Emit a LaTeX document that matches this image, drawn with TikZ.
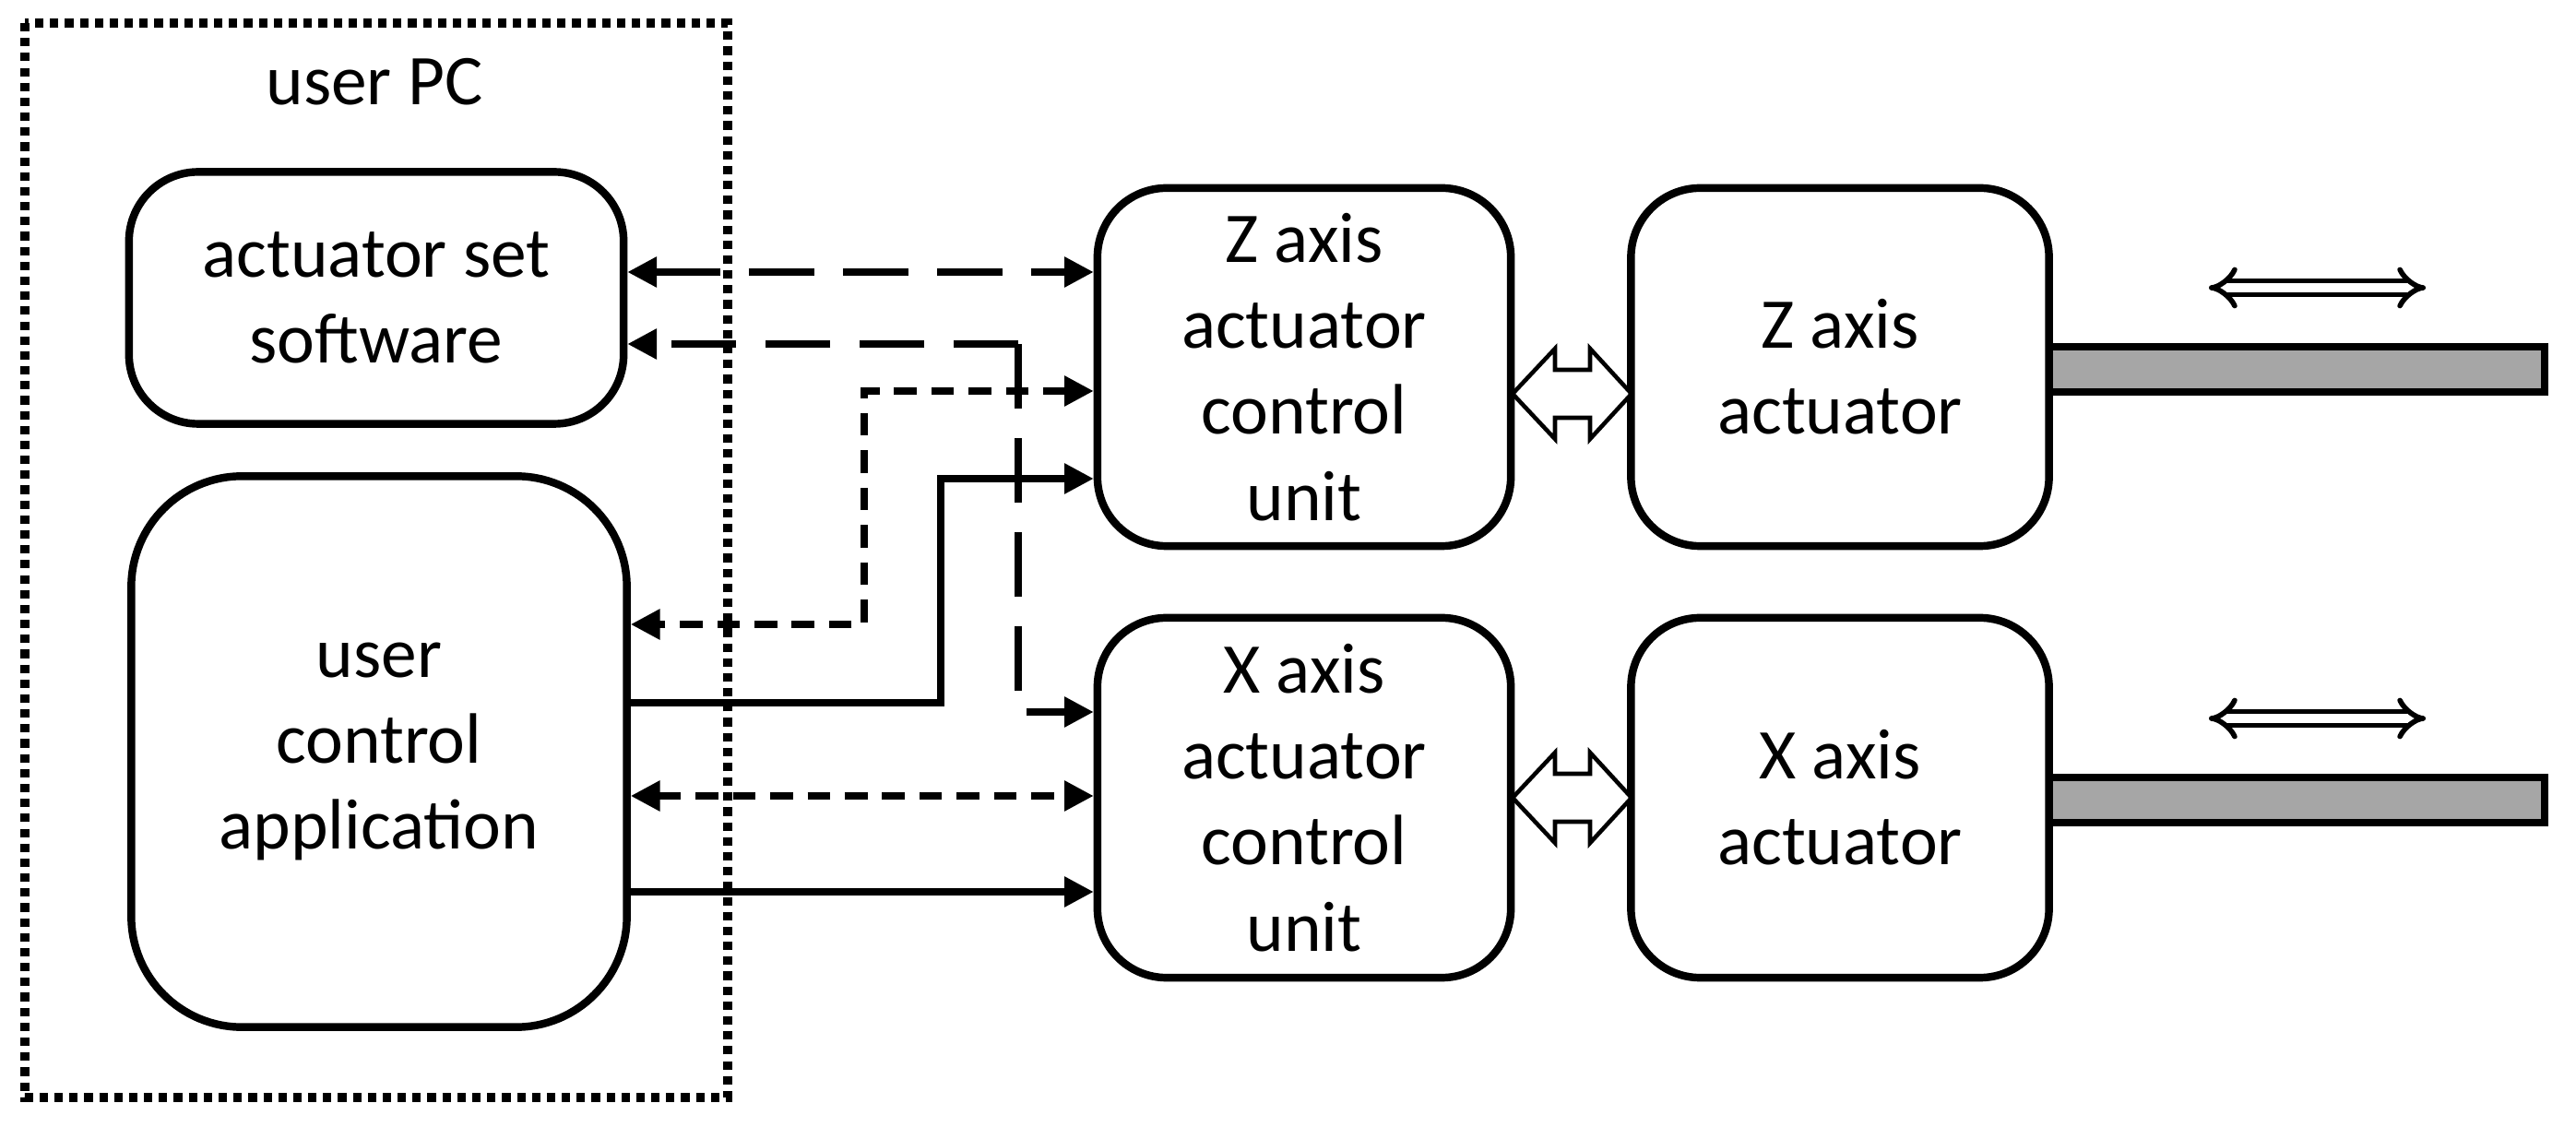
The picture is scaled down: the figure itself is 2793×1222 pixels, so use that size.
\documentclass[tikz,border=0pt]{standalone}
\usepackage{fontspec}
\setmainfont{Carlito}
\usetikzlibrary{arrows.meta}
\begin{document}
\begin{tikzpicture}[x=0.01cm,y=-0.01cm,
 txt/.style={font=\fontsize{22}{26.5}\selectfont,align=center},
 box/.style={txt,draw,line width=2.4pt,rounded corners=0.75cm,inner sep=0pt},
 con/.style={line width=2pt,-{Triangle[length=9pt,width=9pt]}},
 both/.style={line width=2pt,{Triangle[length=9pt,width=9pt]}-{Triangle[length=9pt,width=9pt]}},
 ldash/.style={dash pattern=on 20pt off 9pt},
 sdash/.style={dash pattern=on 7pt off 4.5pt},
 bar/.style={draw,fill=gray!70,line width=2.4pt},
 mv/.style={double,double distance=2.6pt,line width=1.6pt,{Implies}-{Implies}},
 hollow/.style={draw,fill=white,line width=1.3pt}]
\useasboundingbox (0,0) rectangle (2793,1222);
\draw[line width=2.6pt,dotted] (27,25) rectangle (789,1190);
\node[txt] (pc) at (406,89) {user PC};
\node[box,minimum width=15.2cm/1,minimum width=5.36cm,minimum height=2.73cm] (ass) at (408,323) {actuator set\\software};
\node[box,rounded corners=1.2cm,minimum width=5.37cm,minimum height=5.97cm] (uca) at (411,815) {user\\control\\application};
\node[box,minimum width=4.48cm,minimum height=3.88cm] (zc) at (1414,398) {Z axis\\actuator\\control\\unit};
\node[box,minimum width=4.48cm,minimum height=3.9cm] (xc) at (1414,865) {X axis\\actuator\\control\\unit};
\node[box,minimum width=4.53cm,minimum height=3.88cm] (za) at (1995,398) {Z axis\\actuator};
\node[box,minimum width=4.53cm,minimum height=3.9cm] (xa) at (1995,865) {X axis\\actuator};
\coordinate (k1) at (1104,373);
\draw[both,ldash] (ass.east|-0,295) -- (zc.west|-0,295);
\draw[con,ldash] (k1) -- (1104,772) -- (xc.west|-0,772);
\draw[con,ldash] (k1) -- (ass.east|-k1);
\draw[both,sdash] (zc.west|-0,424) -- (937,424) -- (937,677) -- (uca.east|-0,677);
\draw[con] (uca.east|-0,762) -- (1020,762) -- (1020,519) -- (zc.west|-0,519);
\draw[both,sdash] (uca.east|-0,863) -- (xc.west|-0,863);
\draw[con] (uca.east|-0,967) -- (xc.west|-0,967);
\foreach \c in {427,865}{
 \draw[hollow] (1640,\c) -- (1686,\c-49) -- (1686,\c-26) -- (1724,\c-26) -- (1724,\c-49) -- (1769,\c) -- (1724,\c+49) -- (1724,\c+26) -- (1686,\c+26) -- (1686,\c+49) -- cycle;}
\draw[bar] (2222,376) rectangle (2759,425);
\draw[bar] (2222,843) rectangle (2759,892);
\draw[mv] (2395,312) -- (2630,312);
\draw[mv] (2395,779) -- (2630,779);
\end{tikzpicture}
\end{document}
